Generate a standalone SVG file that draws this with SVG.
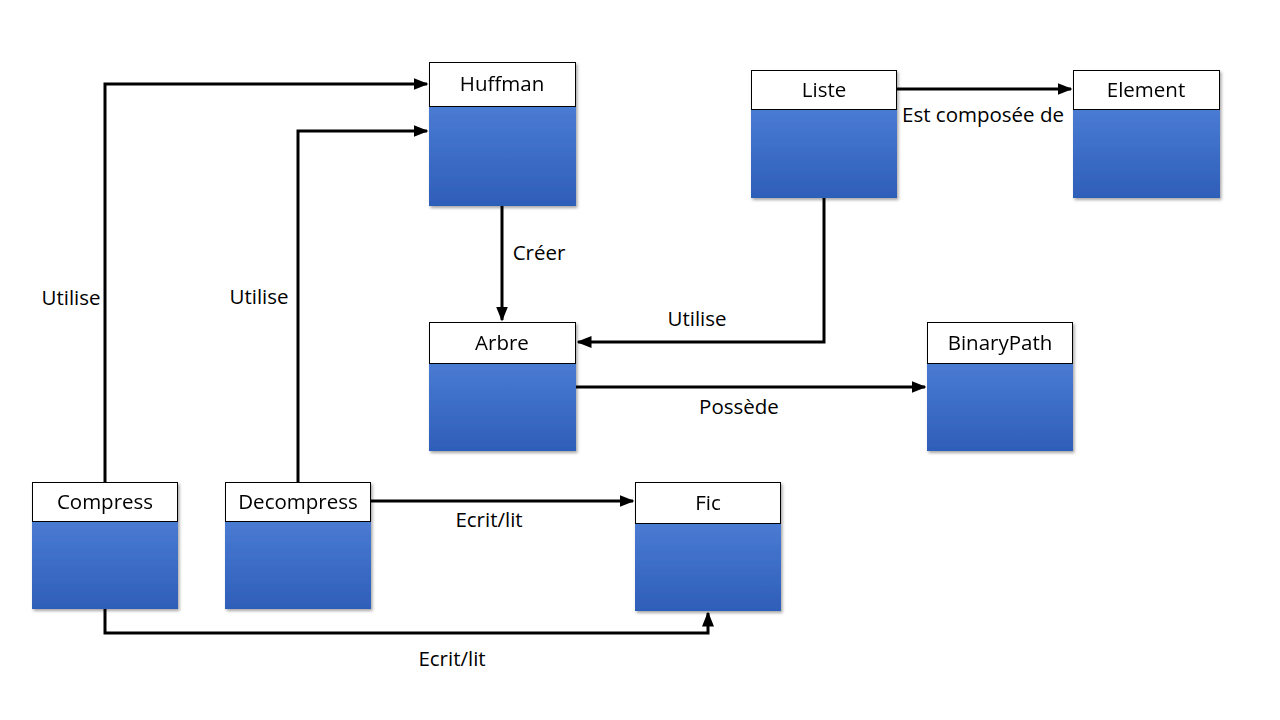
<svg xmlns="http://www.w3.org/2000/svg" width="1280" height="720" viewBox="0 0 1280 720">
<style>
.hdr{fill:#ffffff;stroke:#000000;stroke-width:1}
.body{fill:url(#g)}
.t{font-family:"Open Sans","Noto Sans","DejaVu Sans",sans-serif;font-size:20.5px;fill:#000;text-anchor:middle}
.c{fill:none;stroke:#000;stroke-width:3;marker-end:url(#a)}
</style>
<defs>
<linearGradient id="g" x1="0" y1="0" x2="0" y2="1">
<stop offset="0" stop-color="#4a7bd3"/>
<stop offset="1" stop-color="#2e5eb8"/>
</linearGradient>
<filter id="sh" x="-10%" y="-10%" width="130%" height="130%">
<feDropShadow dx="1.5" dy="2" stdDeviation="1.5" flood-color="#000" flood-opacity="0.35"/>
</filter>
<marker id="a" markerWidth="5" markerHeight="4" refX="4.5" refY="2" orient="auto" markerUnits="strokeWidth">
<path d="M0,0 L5,2 L0,4 Z" fill="#000"/>
</marker>
</defs>
<rect width="1280" height="720" fill="#fff"/>
<g id="connectors">
<path class="c" d="M105,482 V84 H427"/>
<path class="c" d="M298,482 V131 H427"/>
<path class="c" d="M502,206 V320"/>
<path class="c" d="M824,198 V342 H578"/>
<path class="c" d="M576,387 H925"/>
<path class="c" d="M897,89 H1071"/>
<path class="c" d="M371,501 H633"/>
<path class="c" d="M105,609 V633 H708 V613"/>
<text class="t" x="71" y="305">Utilise</text>
<text class="t" x="259" y="304">Utilise</text>
<text class="t" x="539" y="260">Créer</text>
<text class="t" x="697" y="326">Utilise</text>
<text class="t" x="739" y="414">Possède</text>
<text class="t" x="983" y="122">Est composée de</text>
<text class="t" x="489" y="527">Ecrit/lit</text>
<text class="t" x="452" y="666">Ecrit/lit</text>
</g>
<g id="huffman" filter="url(#sh)">
<rect class="body" x="429" y="106" width="147" height="100"/>
<rect class="hdr" x="429.5" y="62.5" width="146" height="44"/>
<text class="t" x="502" y="91">Huffman</text>
</g>
<g id="liste" filter="url(#sh)">
<rect class="body" x="751" y="109" width="146" height="89"/>
<rect class="hdr" x="751.5" y="70.5" width="145" height="39"/>
<text class="t" x="824" y="97">Liste</text>
</g>
<g id="element" filter="url(#sh)">
<rect class="body" x="1073" y="109" width="147" height="89"/>
<rect class="hdr" x="1073.5" y="70.5" width="146" height="39"/>
<text class="t" x="1146" y="97">Element</text>
</g>
<g id="arbre" filter="url(#sh)">
<rect class="body" x="429" y="363" width="147" height="88"/>
<rect class="hdr" x="429.5" y="322.5" width="146" height="41"/>
<text class="t" x="502" y="350">Arbre</text>
</g>
<g id="binarypath" filter="url(#sh)">
<rect class="body" x="927" y="363" width="146" height="88"/>
<rect class="hdr" x="927.5" y="322.5" width="145" height="41"/>
<text class="t" x="1000" y="350">BinaryPath</text>
</g>
<g id="compress" filter="url(#sh)">
<rect class="body" x="32" y="521" width="146" height="88"/>
<rect class="hdr" x="32.5" y="482.5" width="145" height="39"/>
<text class="t" x="105" y="509">Compress</text>
</g>
<g id="decompress" filter="url(#sh)">
<rect class="body" x="225" y="521" width="146" height="88"/>
<rect class="hdr" x="225.5" y="482.5" width="145" height="39"/>
<text class="t" x="298" y="509">Decompress</text>
</g>
<g id="fic" filter="url(#sh)">
<rect class="body" x="635" y="523" width="146" height="88"/>
<rect class="hdr" x="635.5" y="482.5" width="145" height="41"/>
<text class="t" x="708" y="510">Fic</text>
</g>
</svg>
